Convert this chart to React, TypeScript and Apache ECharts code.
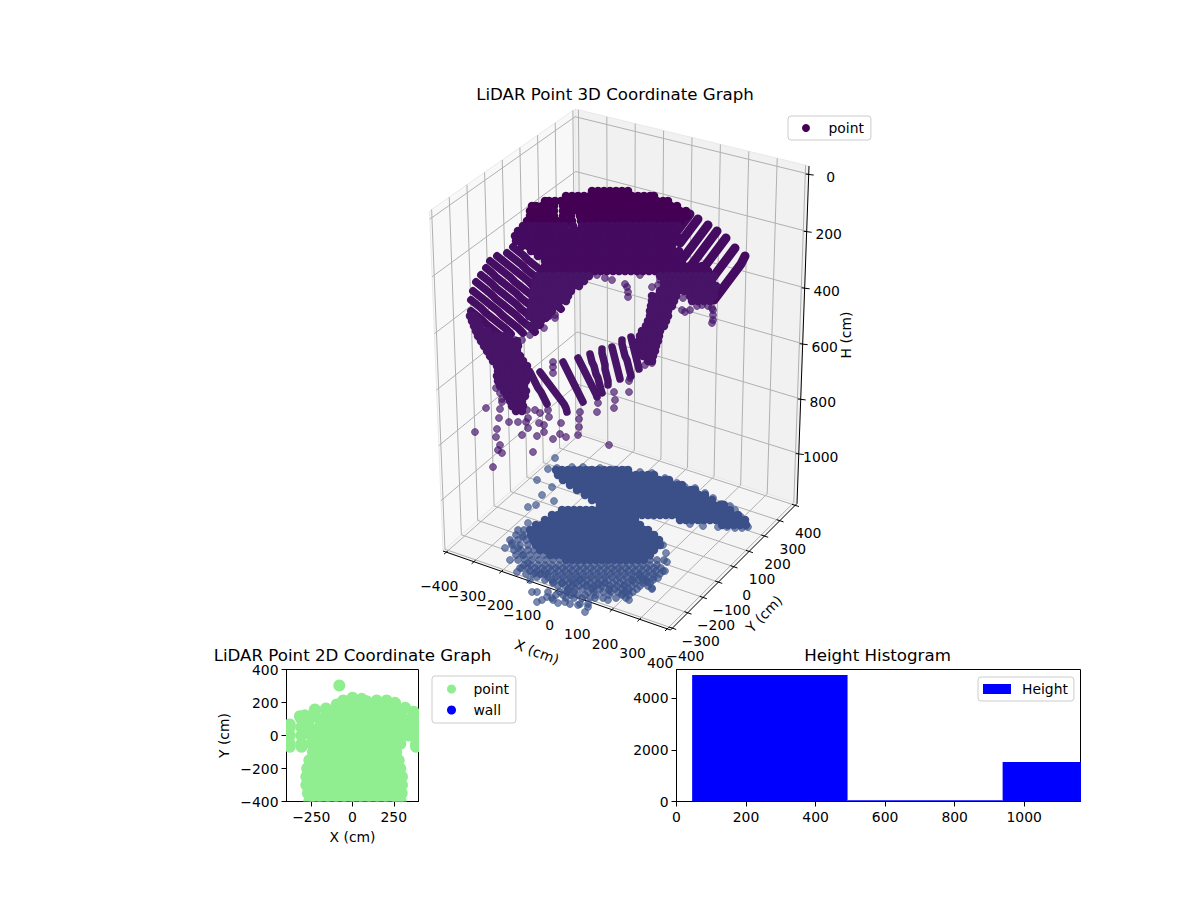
import { useEffect, useRef } from 'react';
import * as echarts from 'echarts';

const FONT = '"DejaVu Sans", sans-serif';
const MINUS = '\u2212';

// 3D box: axis limits and ticks
const xLimits = [-412, 412];
const yLimits = [-412, 412];
const hLimits = [-28, 1185];
const xTicks3d = [-400, -300, -200, -100, 0, 100, 200, 300, 400];
const yTicks3d = [-400, -300, -200, -100, 0, 100, 200, 300, 400];
const hTicks3d = [0, 200, 400, 600, 800, 1000];

// The cloud as it lands on the view plane of the 3D box: [row, [columns]]
const domeRows: [number, number[]][] = [
  [191, [592, 598, 604, 610, 616, 622, 628]],
  [196, [566, 572, 578, 584, 590, 596, 602, 608, 614, 620, 626, 632, 638, 644, 650, 654]],
  [201, [545, 549, 555, 561, 567, 573, 579, 585, 591, 597, 603, 609, 615, 621, 627, 633, 639, 645, 651, 657, 663, 668]],
  [206, [532, 536, 542, 548, 554, 563, 569, 575, 581, 587, 593, 599, 605, 611, 617, 623, 629, 635, 641, 647, 653, 659, 665, 671, 677]],
  [211, [530, 536, 542, 548, 554, 563, 566, 572, 578, 584, 590, 596, 602, 608, 614, 620, 626, 632, 638, 644, 650, 656, 662, 668, 674, 680, 686]],
  [216, [530, 536, 542, 548, 554, 563, 571, 580, 585, 591, 597, 603, 609, 615, 621, 627, 633, 639, 645, 651, 657, 663, 669, 675, 681, 687]],
  [221, [527, 533, 539, 545, 551, 557, 563, 569, 572, 581, 587, 593, 599, 605, 611, 617, 623, 629, 635, 641, 647, 653, 659, 665, 671, 677, 681]],
  [226, [523, 529, 535, 541, 547, 553, 559, 565, 573, 582, 588, 594, 600, 606, 612, 618, 624, 630, 636, 642, 648, 654, 660, 666, 672, 678]],
  [231, [518, 524, 530, 536, 542, 548, 554, 560, 566, 572, 578, 584, 590, 596, 602, 608, 614, 620, 626, 632, 638, 644, 650, 656, 662, 668, 674]],
  [236, [515, 521, 527, 533, 539, 545, 551, 557, 563, 569, 575, 581, 587, 593, 599, 605, 611, 617, 623, 629, 635, 641, 647, 653, 659, 665, 671, 677]],
  [241, [516, 520, 526, 532, 538, 544, 550, 556, 562, 568, 574, 580, 586, 592, 598, 604, 610, 616, 622, 628, 634, 640, 646, 652, 658, 664, 670, 674]],
  [246, [522, 528, 534, 540, 546, 552, 558, 564, 570, 576, 582, 588, 594, 600, 606, 612, 618, 624, 630, 636, 642, 648, 654, 660, 666, 672]],
  [251, [531, 535, 541, 547, 553, 559, 565, 571, 577, 583, 589, 595, 601, 607, 613, 619, 625, 631, 637, 643, 649, 655, 661, 667, 673, 679]],
  [256, [538, 543, 549, 555, 561, 567, 573, 579, 585, 591, 597, 603, 609, 615, 621, 627, 633, 639, 645, 651, 657, 663, 669, 675, 681]],
  [261, [545, 550, 556, 562, 568, 574, 580, 586, 592, 598, 604, 610, 616, 622, 628, 634, 640, 646, 652, 658, 664, 670, 676, 682]],
  [266, [545, 552, 558, 564, 570, 576, 582, 588, 594, 600, 606, 612, 618, 624, 630, 636, 642, 648, 654, 660, 666, 672, 678, 684, 690, 696, 702]],
  [271, [542, 548, 554, 560, 565, 571, 577, 583, 589, 595, 601, 607, 613, 619, 625, 631, 637, 643, 649, 655, 661, 667, 673, 679, 684, 690, 696, 702, 708]],
  [276, [538, 544, 550, 556, 560, 565, 571, 577, 583, 589, 660, 666, 672, 678, 684, 690, 696, 702, 708, 714]],
  [281, [535, 541, 547, 553, 556, 560, 566, 572, 578, 584, 664, 670, 676, 682, 688, 694, 700, 706, 712]],
  [286, [535, 541, 547, 553, 555, 561, 567, 573, 579, 664, 670, 676, 680, 686, 692, 698, 704, 710, 716]],
  [291, [533, 539, 545, 551, 553, 559, 565, 571, 660, 666, 672, 678, 684, 690, 696, 702, 708, 714]],
  [296, [533, 539, 545, 550, 556, 562, 568, 652, 658, 664, 670, 676, 690, 696, 702, 708, 714]],
  [301, [532, 538, 544, 548, 554, 560, 566, 652, 658, 664, 670, 674, 692, 698, 704, 710]],
  [306, [532, 538, 545, 551, 557, 651, 657, 663, 669, 672]],
  [311, [530, 536, 540, 546, 552, 650, 656, 662, 668]],
  [316, [470, 475, 529, 536, 542, 548, 650, 656, 662, 668]],
  [321, [472, 478, 535, 541, 648, 654, 660, 666]],
  [326, [474, 480, 530, 536, 646, 652, 658, 664]],
  [331, [476, 482, 488, 642, 648, 654, 660]],
  [336, [478, 484, 490, 496, 502, 508, 640, 646, 652, 659]],
  [341, [481, 487, 493, 499, 505, 511, 517, 639, 645, 651, 658]],
  [346, [484, 490, 496, 502, 508, 514, 518, 638, 644, 650, 656]],
  [351, [487, 493, 499, 505, 511, 517, 640, 646, 652, 655]],
  [356, [490, 496, 502, 508, 514, 520, 643, 649, 653]],
  [361, [493, 499, 505, 511, 517, 523, 648, 652]],
  [366, [497, 503, 509, 515, 521, 527]],
  [371, [498, 504, 510, 516, 522, 528]],
  [376, [497, 503, 509, 515, 521, 527]],
  [381, [498, 504, 510, 516, 522, 526]],
  [386, [500, 506, 512, 518, 524]],
  [391, [504, 510, 516, 522, 526]],
  [396, [507, 513, 519, 525]],
  [401, [510, 516, 522]],
  [406, [512, 518, 523]],
  [411, [516, 522]],
];

// Scan stripes of the ring, outer tip first
const leftStripes: number[][][] = [
  [[513, 247], [518, 251], [523, 255], [528, 260], [533, 264], [538, 268], [543, 272], [548, 276], [553, 280], [558, 284]],
  [[507, 253], [512, 257], [517, 261], [522, 265], [527, 270], [532, 274], [537, 278], [542, 282], [547, 286], [552, 290], [557, 295], [562, 299]],
  [[497, 256], [502, 260], [507, 264], [512, 268], [517, 272], [522, 276], [527, 280], [532, 285], [537, 289], [542, 293], [547, 297], [552, 301], [557, 305], [561, 309]],
  [[490, 261], [495, 265], [500, 269], [505, 273], [510, 277], [515, 282], [520, 286], [525, 290], [530, 294], [535, 298], [540, 303], [545, 307], [550, 311]],
  [[486, 268], [491, 272], [496, 277], [501, 281], [506, 285], [511, 289], [516, 293], [521, 298], [526, 302], [531, 306], [536, 310], [541, 314], [546, 318]],
  [[481, 275], [486, 279], [491, 283], [496, 288], [501, 292], [506, 296], [511, 300], [516, 304], [521, 309], [526, 313], [531, 317], [536, 321], [540, 325]],
  [[476, 282], [481, 286], [486, 290], [491, 294], [496, 299], [501, 303], [506, 307], [511, 311], [516, 315], [521, 320], [526, 324], [531, 328], [535, 332]],
  [[473, 291], [478, 295], [483, 299], [488, 303], [493, 307], [498, 311], [503, 316], [508, 320], [513, 324], [518, 328], [523, 333]],
  [[471, 300], [476, 304], [481, 308], [486, 313], [491, 317], [496, 321], [501, 325], [506, 329], [511, 334]],
  [[471, 311], [476, 315], [481, 319], [486, 324], [491, 328], [496, 332], [501, 336], [506, 340]],
];

const rightStripes: number[][][] = [
  [[745, 256], [743, 260], [741, 264], [738, 268], [735, 272], [732, 276], [729, 280], [726, 284], [723, 288], [720, 292], [717, 296], [714, 300]],
  [[735, 248], [732, 252], [729, 256], [726, 260], [723, 264], [720, 268], [717, 272], [714, 276], [711, 280], [708, 284], [705, 288], [702, 292]],
  [[726, 238], [723, 242], [720, 246], [717, 250], [714, 254], [711, 258], [708, 262], [705, 266], [702, 270], [699, 274], [696, 278], [693, 282]],
  [[717, 231], [714, 235], [711, 239], [708, 243], [705, 247], [702, 251], [699, 255], [696, 259], [693, 263], [690, 267]],
  [[708, 225], [705, 229], [702, 233], [699, 237], [696, 241], [693, 245], [690, 249], [687, 253], [684, 257]],
  [[698, 219], [695, 223], [692, 227], [689, 231], [686, 235], [683, 239], [680, 243]],
  [[690, 214], [687, 218], [684, 222], [681, 226], [678, 230]],
];

const frontStripes: number[][][] = [
  [[530, 372], [532, 376], [534, 380], [536, 384], [538, 388], [541, 392], [543, 396], [545, 400], [547, 404]],
  [[540, 372], [543, 376], [546, 380], [549, 384], [552, 388], [555, 392], [558, 396], [561, 400], [564, 404], [566, 408], [567, 412]],
  [[563, 362], [565, 366], [567, 370], [569, 374], [571, 378], [573, 382], [575, 386], [577, 390], [579, 394], [581, 398], [583, 402]],
  [[578, 358], [580, 362], [582, 366], [584, 370], [586, 374], [588, 378], [590, 382], [592, 386], [594, 390], [596, 394], [597, 397]],
  [[590, 354], [591, 358], [592, 362], [594, 366], [595, 370], [596, 374], [598, 378], [599, 382], [600, 386], [601, 390], [602, 393]],
  [[602, 349], [602, 353], [603, 357], [604, 361], [605, 365], [605, 369], [606, 373], [607, 377], [608, 381], [608, 385]],
  [[612, 347], [613, 351], [614, 355], [615, 359], [616, 363], [617, 367], [618, 371], [619, 375], [620, 379]],
  [[622, 340], [622, 344], [623, 348], [624, 352], [625, 356], [627, 360], [628, 364], [629, 368], [630, 372], [631, 376]],
  [[631, 337], [632, 341], [633, 345], [634, 349], [635, 353], [636, 357], [637, 361], [638, 365], [639, 369]],
];

// Loose points hanging under the ring
const ringLoosePoints = [
  [486, 408], [475, 432], [493, 467], [500, 409], [499, 418], [497, 429], [496, 437], [500, 445], [498, 450], [502, 453],
  [509, 422], [522, 435], [533, 452], [537, 436], [544, 432], [544, 425], [539, 423], [528, 428], [526, 422], [518, 422],
  [549, 417], [561, 423], [560, 434], [566, 437], [553, 439], [578, 435], [579, 427], [579, 419], [580, 412], [597, 412],
  [598, 403], [614, 408], [615, 400], [614, 392], [629, 392], [629, 381], [609, 445], [502, 399], [496, 388], [553, 362],
  [553, 367], [553, 373], [713, 310], [713, 315], [713, 320], [712, 323], [683, 298], [682, 310], [685, 312], [690, 310],
  [697, 306], [702, 305], [708, 306], [712, 308], [628, 297], [628, 292], [627, 287], [625, 284], [652, 287], [658, 285],
  [660, 280], [555, 306], [540, 302], [555, 318], [544, 328], [570, 277], [597, 275], [605, 278], [612, 280], [640, 275],
  [652, 363], [645, 365], [630, 378], [555, 315], [518, 345], [508, 333], [515, 340], [548, 300], [522, 340], [530, 335],
  [500, 393], [502, 402], [527, 410], [528, 418], [540, 413], [535, 410], [548, 410],
];

const floorRows: [number, number[]][] = [
  [470, [556, 562, 568, 574, 580, 586, 592, 598, 604, 610, 616, 622, 628]],
  [475, [558, 564, 570, 576, 582, 588, 594, 600, 606, 612, 618, 624, 630, 636, 642, 648, 654]],
  [480, [563, 569, 575, 581, 587, 593, 599, 605, 611, 617, 623, 629, 635, 641, 647, 653, 659, 665, 669]],
  [485, [570, 576, 582, 588, 594, 600, 606, 612, 618, 624, 630, 636, 642, 648, 654, 660, 666, 672, 678, 682]],
  [490, [577, 583, 589, 595, 601, 607, 613, 619, 625, 631, 637, 643, 649, 655, 661, 667, 673, 679, 685, 691, 695]],
  [495, [585, 591, 597, 603, 609, 615, 621, 627, 633, 639, 645, 651, 657, 663, 669, 675, 681, 687, 693, 699, 705]],
  [500, [592, 598, 604, 610, 616, 622, 628, 634, 640, 646, 652, 658, 664, 670, 676, 682, 688, 694, 700, 706, 712]],
  [505, [600, 606, 612, 618, 624, 630, 636, 642, 648, 654, 660, 666, 672, 678, 684, 690, 696, 702, 708, 714, 720, 724]],
  [510, [562, 568, 574, 580, 586, 592, 598, 604, 610, 616, 622, 628, 634, 640, 646, 652, 658, 664, 670, 676, 682, 688, 694, 700, 706, 712, 718, 724, 730]],
  [515, [552, 558, 564, 570, 576, 582, 588, 594, 600, 606, 612, 618, 624, 630, 636, 642, 648, 654, 660, 666, 672, 678, 684, 690, 696, 702, 708, 714, 720, 726, 732, 738]],
  [520, [545, 551, 557, 563, 569, 575, 581, 587, 593, 599, 605, 611, 617, 623, 629, 635, 680, 686, 692, 698, 704, 710, 716, 722, 728, 734, 740, 745]],
  [525, [536, 542, 548, 554, 560, 566, 572, 578, 584, 590, 596, 602, 608, 614, 620, 626, 632, 638, 640, 722, 728, 734, 740, 746]],
  [530, [530, 536, 542, 548, 554, 560, 566, 572, 578, 584, 590, 596, 602, 608, 614, 620, 626, 632, 638, 644, 648]],
  [535, [531, 537, 543, 549, 555, 561, 567, 573, 579, 585, 591, 597, 603, 609, 615, 621, 627, 633, 639, 645, 651, 654]],
  [540, [533, 539, 545, 551, 557, 563, 569, 575, 581, 587, 593, 599, 605, 611, 617, 623, 629, 635, 641, 647, 653, 659]],
  [545, [536, 542, 548, 554, 560, 566, 572, 578, 584, 590, 596, 602, 608, 614, 620, 626, 632, 638, 644, 650, 656, 660]],
  [550, [540, 546, 552, 558, 564, 570, 576, 582, 588, 594, 600, 606, 612, 618, 624, 630, 636, 642, 648, 654]],
  [555, [550, 556, 562, 568, 574, 580, 586, 592, 598, 604, 610, 616, 622, 628, 634, 640, 646, 650]],
  [560, [566, 572, 578, 584, 590, 596, 602, 608, 614, 620, 626, 632, 638, 644]],
];

const floorFanRows: [number, number[]][] = [
  [530, [524, 518]],
  [535, [516, 523]],
  [540, [510, 518, 526]],
  [545, [512, 520, 528]],
  [550, [514, 521, 528, 534]],
  [555, [516, 523, 530, 537, 544]],
  [560, [518, 525, 532, 539, 546, 553, 560, 650, 657, 664]],
  [565, [524, 531, 538, 545, 552, 559, 566, 573, 580, 587, 594, 601, 608, 615, 622, 629, 636, 643, 650, 657]],
  [568, [520, 528, 535, 542, 549, 556, 563, 570, 577, 584, 591, 598, 605, 612, 619, 626, 633, 640, 647, 654, 661]],
  [571, [530, 537, 544, 551, 558, 565, 572, 579, 586, 593, 600, 607, 614, 621, 628, 635, 642, 649, 656, 663]],
  [574, [526, 533, 541, 548, 555, 562, 569, 576, 583, 590, 597, 604, 611, 618, 625, 632, 639, 646, 653, 660]],
  [577, [537, 548, 556, 563, 570, 577, 584, 591, 598, 605, 612, 619, 626, 633, 640, 647, 654]],
  [580, [545, 552, 559, 566, 573, 580, 587, 594, 601, 608, 616, 623, 631, 638, 646, 653]],
  [583, [553, 562, 569, 576, 583, 590, 598, 605, 613, 620, 628, 635, 643, 650]],
  [586, [558, 565, 572, 579, 586, 594, 602, 610, 617, 624, 632, 640, 648]],
  [589, [568, 575, 582, 592, 600, 609, 615, 622, 629, 637, 652]],
  [592, [548, 560, 567, 574, 588, 594, 603, 611, 618, 625, 633]],
  [595, [556, 563, 571, 578, 585, 596, 609, 622, 629]],
  [598, [552, 566, 574, 582, 590, 603, 616, 626]],
  [604, [570, 580, 588]],
];

const floorLoosePoints = [
  [555, 458], [548, 469], [557, 468], [572, 467], [583, 467], [590, 470], [600, 468], [612, 470], [625, 470], [640, 472],
  [652, 473], [665, 478], [677, 483], [685, 487], [695, 488], [705, 493], [713, 498], [722, 504], [730, 506], [735, 510],
  [741, 517], [748, 527], [742, 528], [735, 528], [727, 527], [718, 527], [703, 526], [690, 524], [537, 480], [552, 487],
  [542, 495], [554, 501], [528, 507], [536, 505], [505, 548], [510, 560], [512, 543], [517, 572], [522, 568], [523, 537],
  [518, 548], [523, 555], [530, 580], [532, 592], [537, 592], [537, 602], [542, 600], [547, 597], [553, 600], [558, 603],
  [565, 602], [578, 605], [585, 612], [588, 607], [595, 598], [608, 600], [609, 590], [622, 594], [629, 600], [628, 592],
  [647, 582], [652, 588], [658, 578], [665, 571], [667, 562], [666, 553], [663, 545], [535, 573], [540, 574], [545, 574],
  [553, 582], [562, 583], [568, 590], [573, 583], [580, 580], [587, 585], [593, 588], [598, 585], [605, 583], [625, 585],
  [633, 580], [643, 580], [640, 575], [528, 523], [528, 563],
];

// 2D view, cm: [y, [x values]]
const topViewRows: [number, number[]][] = [
  [303, [-80]],
  [229, [0]],
  [222, [56]],
  [212, [-56, 147, 207]],
  [208, [86]],
  [198, [258]],
  [188, [-96]],
  [180, [-50, 0, 50, 100, 150, 200, 250]],
  [168, [319]],
  [164, [-161]],
  [158, [-228]],
  [150, [-230, -160, -100, -50, 0, 50, 100, 150, 200, 250, 300]],
  [144, [370]],
  [122, [-289]],
  [117, [-319]],
  [100, [-310, -260, -200, -150, -100, -50, 0, 50, 100, 150, 200, 250, 300, 350, 400]],
  [67, [-380]],
  [50, [-380, -310, -260, -200, -150, -100, -50, 0, 50, 100, 150, 200, 250, 300, 350, 385]],
  [0, [-380, -310, -250, -200, -150, -100, -50, 0, 50, 100, 150, 200, 250, 300, 340, 385]],
  [-50, [-380, -309, -250, -200, -150, -100, -50, 0, 50, 100, 150, 200, 250, 290, 385]],
  [-68, [-380, -309, 385]],
  [-100, [-240, -200, -150, -100, -50, 0, 50, 100, 150, 200, 250, 265]],
  [-150, [-262, -200, -150, -100, -50, 0, 50, 100, 150, 200, 250, 280]],
  [-200, [-275, -225, -175, -125, -75, -25, 25, 75, 125, 175, 225, 275, 290]],
  [-250, [-280, -230, -180, -130, -80, -30, 20, 70, 120, 170, 220, 270, 300]],
  [-300, [-280, -230, -180, -130, -80, -30, 20, 70, 120, 170, 220, 270, 300]],
  [-350, [-270, -225, -175, -125, -75, -25, 25, 75, 125, 175, 225, 275, 298]],
  [-400, [-263, -225, -175, -125, -75, -25, 25, 75, 125, 175, 225, 275, 293]],
];
const xTicks2d = [-250, 0, 250];

// Height histogram
const binStarts = [45, 492, 938];
const binEnds = [492, 938, 1384];
const binCounts = [4916, 50, 1530];
const histXTicks = [0, 200, 400, 600, 800, 1000];
const histYTicks = [0, 2000, 4000];

const flattenRows = (rows: [number, number[]][]) =>
  rows.flatMap(([row, cols]) => cols.map(col => [col, row]));
const minusLabel = (value: number) => String(value).replace('-', MINUS);

// Corners of the 3D box on the view plane
const leftBottom = [443, 551];
const frontBottom = [670.5, 630];
const rightBottom = [797, 503.5];
const backBottom = [578, 432];
const leftTop = [429.5, 211];
const frontTop = [669, 267];
const rightTop = [809, 166];
const backTop = [575, 109];

const mix = (a: number[], b: number[], t: number) => [a[0] + (b[0] - a[0]) * t, a[1] + (b[1] - a[1]) * t];

function project(x: number, y: number, h: number) {
  const tx = (x - xLimits[0]) / (xLimits[1] - xLimits[0]);
  const ty = (y - yLimits[0]) / (yLimits[1] - yLimits[0]);
  const raw = (h - hLimits[0]) / (hLimits[1] - hLimits[0]);
  const tz = (raw * 1.036) / (1 + 0.036 * raw); // slight perspective along H
  const top = mix(mix(leftTop, frontTop, tx), mix(backTop, rightTop, tx), ty);
  const bottom = mix(mix(leftBottom, frontBottom, tx), mix(backBottom, rightBottom, tx), ty);
  return mix(top, bottom, tz);
}

function renderBox(_params: any, api: any) {
  const at = (p: number[]) => api.coord(p);
  const line = (a: number[], b: number[], stroke: string, lineWidth = 1) => {
    const p1 = at(a);
    const p2 = at(b);
    return {
      type: 'line',
      shape: { x1: p1[0], y1: p1[1], x2: p2[0], y2: p2[1] },
      style: { stroke, lineWidth },
    };
  };
  const pane = (points: number[][], fill: string) => ({
    type: 'polygon',
    shape: { points: points.map(at) },
    style: { fill, stroke: '#e9e9e9', lineWidth: 1 },
  });
  const label = (text: string, p: number[], rotation = 0, size = 13.9) => {
    const c = at(p);
    return {
      type: 'text',
      x: c[0],
      y: c[1],
      rotation,
      style: { text, fill: '#000', font: `${size}px ${FONT}`, align: 'center', verticalAlign: 'middle' },
    };
  };
  const offset = (p: number[], dx: number, dy: number) => [p[0] + dx, p[1] + dy];

  const [xMin, xMax] = xLimits;
  const [yMin, yMax] = yLimits;
  const [hMin, hMax] = hLimits;
  const gridColor = '#b0b0b0';
  const children: any[] = [
    pane([leftTop, backTop, backBottom, leftBottom], '#f8f8f8'),
    pane([backTop, rightTop, rightBottom, backBottom], '#f1f1f1'),
    pane([leftBottom, frontBottom, rightBottom, backBottom], '#f5f5f5'),
  ];

  xTicks3d.forEach(x => {
    children.push(line(project(x, yMax, hMin), project(x, yMax, hMax), gridColor));
    children.push(line(project(x, yMax, hMax), project(x, yMin, hMax), gridColor));
    const tick = project(x, yMin, hMax);
    children.push(line(project(x, yMin + 12, hMax), project(x, yMin - 14, hMax), '#000'));
    children.push(label(minusLabel(x), offset(tick, -7, 34)));
  });
  yTicks3d.forEach(y => {
    children.push(line(project(xMin, y, hMin), project(xMin, y, hMax), gridColor));
    children.push(line(project(xMin, y, hMax), project(xMax, y, hMax), gridColor));
    const tick = project(xMax, y, hMax);
    children.push(line(project(xMax - 12, y, hMax), project(xMax + 14, y, hMax), '#000'));
    children.push(label(minusLabel(y), offset(tick, 13, 28)));
  });
  hTicks3d.forEach(h => {
    children.push(line(project(xMin, yMin, h), project(xMin, yMax, h), gridColor));
    children.push(line(project(xMin, yMax, h), project(xMax, yMax, h), gridColor));
    const tick = project(xMax, yMax, h);
    children.push(line(offset(tick, -3, 0), offset(tick, 5, 1), '#000'));
    children.push(label(minusLabel(h), offset(tick, 22, 3)));
  });

  children.push(line(leftBottom, frontBottom, '#000'));
  children.push(line(frontBottom, rightBottom, '#000'));
  children.push(line(rightBottom, rightTop, '#000'));
  children.push(label('X (cm)', [537, 652], -0.36));
  children.push(label('Y (cm)', [764, 614], 0.8));
  children.push(label('H (cm)', [846, 335], Math.PI / 2));
  return { type: 'group', children };
}

function renderBins(_params: any, api: any) {
  const start = api.coord([api.value(0), 0]);
  const end = api.coord([api.value(1), api.value(2)]);
  return {
    type: 'rect',
    shape: { x: start[0], y: end[1], width: end[0] - start[0], height: start[1] - end[1] },
    style: { fill: '#0000ff' },
  };
}

// A custom series, because scatter symbols are not cut at the plot's edge
function renderTopPoint(_params: any, api: any) {
  const c = api.coord([api.value(0), api.value(1)]);
  return { type: 'circle', shape: { cx: c[0], cy: c[1], r: 6 }, style: { fill: '#90ee90' } };
}

// Colour follows height: darker high up, lighter further down
const ringColor = (params: any) => {
  const row = params.value[1];
  if (row < 225) return '#440154';
  if (row < 275) return '#450b60';
  return '#471467';
};

const viewPoints = (data: number[][], itemStyle: any, symbolSize = 8.5) => ({
  name: 'point',
  type: 'scatter',
  xAxisIndex: 0,
  yAxisIndex: 0,
  clip: false,
  z: 3,
  symbolSize,
  data,
  itemStyle: { opacity: 1, ...itemStyle },
});

// One scan stripe: its returns overlap into a solid band
const viewStripe = (data: number[][], color: string, width: number) => ({
  name: 'point',
  type: 'line',
  xAxisIndex: 0,
  yAxisIndex: 0,
  clip: false,
  z: 3,
  showSymbol: false,
  lineStyle: { color, width, cap: 'round', join: 'round' },
  data,
});

const legendBase = {
  selectedMode: false,
  backgroundColor: 'rgba(255,255,255,0.8)',
  borderColor: '#cccccc',
  borderWidth: 1,
  borderRadius: 3,
  textStyle: { color: '#000', fontFamily: FONT, fontSize: 13.9 },
};

const legendDot = (name: string, color: string) => ({
  name,
  icon: 'circle',
  itemStyle: { color, opacity: 1, borderWidth: 0 },
  lineStyle: { width: 0 },
});

const axisText = { color: '#000', fontFamily: FONT, fontSize: 13.9, margin: 8 };
const axisMark = {
  axisLine: { show: true, onZero: false, lineStyle: { color: '#000', width: 1 } },
  axisTick: { show: true, length: 5, lineStyle: { color: '#000', width: 1 } },
  splitLine: { show: false },
};

export default function App() {
  const chartRef = useRef<HTMLDivElement>(null);

  useEffect(() => {
    if (!chartRef.current) return;
    const chart = echarts.init(chartRef.current, undefined, { renderer: 'svg' });

    const titleStyle = { color: '#000', fontFamily: FONT, fontSize: 16.67, fontWeight: 'normal' as const };
    const option: any = {
      animation: false,
      backgroundColor: '#fff',
      textStyle: { fontFamily: FONT },
      title: [
        { text: 'LiDAR Point 3D Coordinate Graph', left: 615, top: 86, textAlign: 'center', textStyle: titleStyle, padding: 0 },
        { text: 'LiDAR Point 2D Coordinate Graph', left: 352.5, top: 647, textAlign: 'center', textStyle: titleStyle, padding: 0 },
        { text: 'Height Histogram', left: 877.5, top: 647, textAlign: 'center', textStyle: titleStyle, padding: 0 },
      ],
      legend: [
        {
          ...legendBase,
          left: 788,
          top: 116,
          padding: [5, 7, 5, 14],
          itemWidth: 35,
          itemHeight: 8,
          data: [legendDot('point', '#440154')],
        },
        {
          ...legendBase,
          left: 432,
          top: 676,
          orient: 'vertical',
          padding: [6, 7, 6, 15],
          itemWidth: 34,
          itemHeight: 9,
          itemGap: 7,
          data: [legendDot('point', '#90ee90'), legendDot('wall', '#0000ff')],
        },
        {
          ...legendBase,
          left: 978,
          top: 677,
          padding: [5, 6, 5, 5],
          itemWidth: 28,
          itemHeight: 10,
          textStyle: { ...legendBase.textStyle, padding: [0, 0, 0, 6] },
          data: [{ name: 'Height', icon: 'rect', itemStyle: { color: '#0000ff' } }],
        },
      ],
      grid: [
        { left: 0, top: 0, width: 1200, height: 900, show: false },
        { left: 286.5, top: 669.5, width: 132, height: 132, show: true, borderColor: '#000', borderWidth: 1, backgroundColor: '#fff' },
        { left: 676.5, top: 669.5, width: 404, height: 132, show: true, borderColor: '#000', borderWidth: 1, backgroundColor: '#fff' },
      ],
      xAxis: [
        { type: 'value', gridIndex: 0, min: 0, max: 1200, show: false },
        {
          ...axisMark,
          type: 'value',
          gridIndex: 1,
          min: -400,
          max: 400,
          name: 'X (cm)',
          nameLocation: 'middle',
          nameGap: 28,
          nameTextStyle: { color: '#000', fontFamily: FONT, fontSize: 13.9 },
          axisTick: { ...axisMark.axisTick, customValues: xTicks2d },
          axisLabel: { ...axisText, customValues: xTicks2d, formatter: minusLabel },
        },
        {
          ...axisMark,
          type: 'value',
          gridIndex: 2,
          min: 0,
          max: 1162,
          axisTick: { ...axisMark.axisTick, customValues: histXTicks },
          axisLabel: { ...axisText, customValues: histXTicks, formatter: minusLabel },
        },
      ],
      yAxis: [
        { type: 'value', gridIndex: 0, min: 0, max: 900, inverse: true, show: false },
        {
          ...axisMark,
          type: 'value',
          gridIndex: 1,
          min: -400,
          max: 400,
          interval: 200,
          name: 'Y (cm)',
          nameLocation: 'middle',
          nameGap: 56,
          nameTextStyle: { color: '#000', fontFamily: FONT, fontSize: 13.9 },
          axisLabel: { ...axisText, formatter: minusLabel },
        },
        {
          ...axisMark,
          type: 'value',
          gridIndex: 2,
          min: 0,
          max: 5126,
          axisTick: { ...axisMark.axisTick, customValues: histYTicks },
          axisLabel: { ...axisText, customValues: histYTicks, formatter: minusLabel },
        },
      ],
      series: [
        {
          type: 'custom',
          xAxisIndex: 0,
          yAxisIndex: 0,
          clip: false,
          silent: true,
          z: 1,
          renderItem: renderBox,
          data: [[0, 0]],
        },
        viewPoints(flattenRows(floorFanRows), { color: 'rgba(59,82,139,0.72)', borderColor: 'rgba(59,82,139,0.55)', borderWidth: 1 }, 7),
        viewPoints(floorLoosePoints, { color: 'rgba(59,82,139,0.68)', borderColor: 'rgba(59,82,139,0.55)', borderWidth: 1 }, 7),
        viewPoints(flattenRows(floorRows), { color: '#3b5089' }),
        viewPoints(ringLoosePoints, { color: 'rgba(70,20,107,0.68)', borderColor: 'rgba(70,20,107,0.55)', borderWidth: 1 }, 7),
        ...frontStripes.map(stripe => viewStripe(stripe, '#471467', 7.5)),
        ...leftStripes.map(stripe => viewStripe(stripe, '#460e63', 7.8)),
        ...rightStripes.map(stripe => viewStripe(stripe, '#450b60', 9)),
        viewPoints(flattenRows(domeRows), { color: ringColor }),
        {
          name: 'point',
          type: 'custom',
          xAxisIndex: 1,
          yAxisIndex: 1,
          clip: true,
          renderItem: renderTopPoint,
          data: flattenRows(topViewRows),
        },
        { name: 'wall', type: 'scatter', xAxisIndex: 1, yAxisIndex: 1, itemStyle: { color: '#0000ff', opacity: 1 }, data: [] },
        {
          name: 'Height',
          type: 'custom',
          xAxisIndex: 2,
          yAxisIndex: 2,
          clip: true,
          renderItem: renderBins,
          encode: { x: [0, 1], y: 2 },
          data: binStarts.map((start, i) => [start, binEnds[i], binCounts[i]]),
        },
      ],
    };

    chart.setOption(option);
    return () => chart.dispose();
  }, []);

  return <div ref={chartRef} style={{ position: 'absolute', left: 0, top: 0, width: 1200, height: 900 }} />;
}
